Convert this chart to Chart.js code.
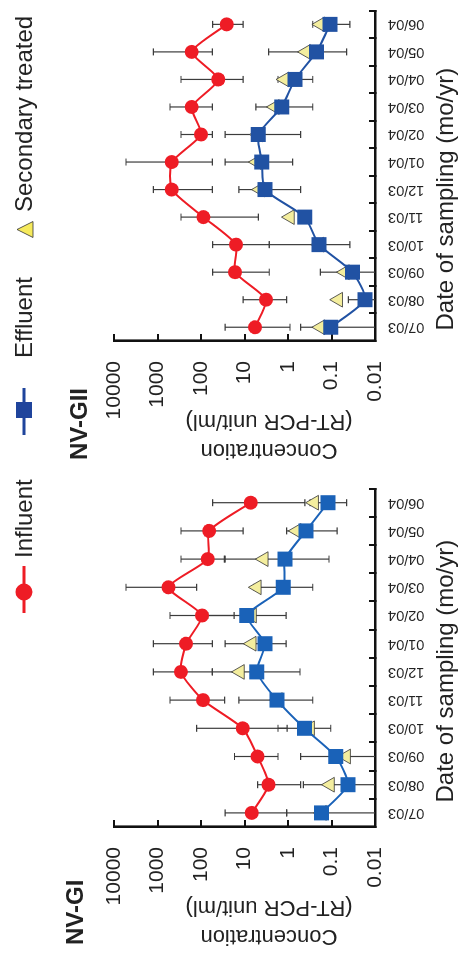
<!DOCTYPE html>
<html>
<head>
<meta charset="utf-8">
<script src="https://cdn.jsdelivr.net/npm/chart.js@4.4.1/dist/chart.umd.min.js"></script>
<style>
  html, body { margin: 0; padding: 0; background: #fff; overflow: hidden; }
  body { width: 462px; height: 958px; position: relative; }
  /* the figure is laid out landscape, then turned a quarter left */
  #fig { position: absolute; left: 0; top: 0; width: 958px; height: 462px;
         transform-origin: 0 0; transform: translate(0, 958px) rotate(-90deg);
         font-family: "Liberation Sans", Arial, sans-serif; color: #222; }
  #fig canvas { position: absolute; top: 0; }
  #c1 { left: 0; }
  #c2 { left: 486px; }
  .lab { position: absolute; line-height: 30px; white-space: nowrap; }
  .panel { font-weight: bold; font-size: 24px; }
  .leg { font-size: 24px; top: 9px; height: 30px; }
  .leg svg { position: absolute; left: 0; top: 0; }
  .leg span { position: absolute; top: 0; }
</style>
</head>
<body>
<div id="fig">
  <canvas id="c1" width="480" height="462"></canvas>
  <canvas id="c2" width="472" height="462"></canvas>

  <div class="lab panel" style="left:13px; top:60px">NV-GI</div>
  <div class="lab panel" style="left:498px; top:64px">NV-GII</div>

  <div class="lab leg" style="left:345px">
    <svg width="47" height="30"><line x1="0" y1="15" x2="47" y2="15" stroke="#ee1c25" stroke-width="3"/><circle cx="21" cy="15" r="8.5" fill="#ee1c25"/></svg>
    <span style="left:55px">Influent</span>
  </div>
  <div class="lab leg" style="left:523px">
    <svg width="47" height="30"><line x1="0" y1="15" x2="47" y2="15" stroke="#1f449c" stroke-width="3"/><rect x="17" y="7" width="16" height="16" fill="#1f449c"/></svg>
    <span style="left:77px">Effluent</span>
  </div>
  <div class="lab leg" style="left:720px">
    <svg width="17" height="30"><polygon points="8.5,8 16.5,24 0.5,24" fill="#f6ea5c" stroke="#333" stroke-width="0.8"/></svg>
    <span style="left:26px">Secondary treated</span>
  </div>
</div>

<script>
const dates = ['07/03', '08/03', '09/03', '10/03', '11/03', '12/03',
               '01/04', '02/04', '03/04', '04/04', '05/04', '06/04'];
const valueTicks = [0.01, 0.1, 1, 10, 100, 1000, 10000];
const valueTickLabels = ['0.01', '0.1', '1', '10', '100', '1000', '10000'];

// NV-GI
const giInfluent     = [6.8, 2.8, 5.0, 11, 90, 290, 220, 95, 560, 70, 65, 7.2];
const giInfluentHigh = [28, 5.0, 17, 126, 516, 1250, 1250, 516, 5300, 288, 288, 54];
const giInfluentLow  = [1.07, 0.51, 1.7, 1.05, 28.5, 55, 55, 17.4, 126, 29, 10.7, 0.41];
const giEffluent     = [0.17, 0.042, 0.08, 0.42, 1.8, 5.2, 3.4, 8.9, 1.28, 1.17, 0.385, 0.12];
const giEffluentHigh = [1.07, 0.445, 0.51, 1.7, 13.4, 55, 28, 70, 6.05, 28, 1.07, 0.31];
const giEffluentLow  = [0.005, 0.005, 0.005, 0.104, 0.27, 0.53, 1.1, 1.1, 0.27, 0.114, 0.074, 0.045];
const giSecondary    = [0.165, 0.108, 0.046, 0.31, 1.7, 12.7, 6.8, 6.7, 5.2, 3.6, 0.63, 0.25];

// NV-GII
const giiInfluent     = [5.7, 3.2, 16.5, 15.7, 88, 470, 470, 100, 164, 40, 164, 25.6];
const giiInfluentHigh = [28, 10.7, 54, 54, 288, 1250, 5300, 288, 516, 288, 1250, 54];
const giiInfluentLow  = [0.9, 1.07, 2.7, 2.7, 4.8, 55, 55, 55, 55, 10.7, 55, 10.7];
const giiEffluent     = [0.104, 0.017, 0.033, 0.194, 0.41, 3.4, 4.0, 4.8, 1.4, 0.69, 0.22, 0.108];
const giiEffluentHigh = [0.51, 0.041, 0.18, 2.7, null, 13.4, 28, 28, 5.5, 1.7, 2.8, 0.27];
const giiEffluentLow  = [0.005, 0.005, 0.005, 0.038, null, 0.51, 0.78, 0.51, 0.27, 0.27, 0.045, 0.038];
const giiSecondary    = [0.18, 0.07, 0.049, 0.19, 0.9, 4.4, 5.2, 4.9, 2.0, 1.2, 0.385, 0.18];

const NB = '\u00A0';

Chart.defaults.font.family = '"Liberation Sans", Arial, sans-serif';
Chart.defaults.color = '#222';

// whiskers, drawn under the markers and cut at the plot frame
const errorBars = {
  id: 'errorBars',
  beforeDatasetsDraw(chart) {
    const { ctx, chartArea: a, scales: { x, y } } = chart;
    ctx.save();
    ctx.beginPath();
    ctx.rect(a.left, a.top, a.right - a.left, a.bottom - a.top);
    ctx.clip();
    ctx.strokeStyle = '#3c3c3c';
    ctx.lineWidth = 1.2;
    chart.data.datasets.forEach((ds) => {
      if (!ds.errHigh) return;
      ds.data.forEach((v, i) => {
        const hi = ds.errHigh[i];
        const lo = ds.errLow[i];
        if (hi == null || lo == null) return;
        const px = x.getPixelForValue(i);
        const top = y.getPixelForValue(hi);
        const bot = y.getPixelForValue(lo);
        ctx.beginPath();
        ctx.moveTo(px, top); ctx.lineTo(px, bot);
        ctx.moveTo(px - 3.5, top); ctx.lineTo(px + 3.5, top);
        ctx.moveTo(px - 3.5, bot); ctx.lineTo(px + 3.5, bot);
        ctx.stroke();
      });
    });
    ctx.restore();
  },
};

function makePanel(canvasId, p) {
  return new Chart(document.getElementById(canvasId), {
    type: 'line',
    data: {
      labels: dates,
      datasets: [
        {
          label: 'Influent',
          data: p.influent, errHigh: p.influentHigh, errLow: p.influentLow,
          borderColor: '#ee1c25', backgroundColor: '#ee1c25', borderWidth: 2,
          pointRadius: 7, pointBorderWidth: 0, tension: 0.2,
        },
        {
          label: 'Effluent',
          data: p.effluent, errHigh: p.effluentHigh, errLow: p.effluentLow,
          borderColor: p.blue, backgroundColor: p.blue, borderWidth: 2,
          pointStyle: 'rect', pointRadius: 10.6, pointBorderWidth: 0, tension: 0.2,
        },
        {
          label: 'Secondary treated',
          data: p.secondary, showLine: false,
          pointStyle: 'triangle', pointRadius: 8.5,
          backgroundColor: '#f4ee9e', borderColor: '#333', pointBorderWidth: 0.8,
        },
      ],
    },
    options: {
      responsive: false,
      animation: false,
      events: [],
      layout: { padding: { left: 0, right: p.padRight, top: 114, bottom: 0 } },
      plugins: { legend: { display: false }, tooltip: { enabled: false } },
      scales: {
        x: {
          type: 'category',
          offset: true,
          afterFit: (s) => { s.height = 87; s.paddingLeft = 0; s.paddingRight = 0; },
          ticks: { minRotation: 90, maxRotation: 90, autoSkip: false, font: { size: 14.5 }, color: '#222', padding: 19 },
          grid: { offset: true, drawOnChartArea: false, tickLength: -6, lineWidth: 2, color: '#111' },
          border: { color: '#111', width: 2.6 },
          title: {
            display: true,
            text: 'Date of sampling (mo/yr)' + NB.repeat(p.xShift),
            font: { size: 24 }, color: '#222',
            padding: { top: 0, bottom: 1 },
          },
        },
        y: {
          type: 'logarithmic',
          min: 0.01,
          max: 10000,
          afterBuildTicks: (s) => { s.ticks = valueTicks.map((v) => ({ value: v })); },
          afterFit: (s) => { s.width = 131; },
          ticks: { callback: (v, i) => valueTickLabels[i], font: { size: 21 }, color: '#222', padding: 27 },
          grid: { drawOnChartArea: false, tickLength: -7, lineWidth: 2, color: '#111' },
          border: { color: '#111', width: 2.6 },
          title: {
            display: true,
            text: ['Concentration' + NB.repeat(8), '(RT-PCR unit/ml)' + NB.repeat(8)],
            font: { size: 22, lineHeight: 1.3 }, color: '#222',
            padding: { top: 8, bottom: 0 },
          },
        },
      },
    },
    plugins: [errorBars],
  });
}

makePanel('c1', {
  influent: giInfluent, influentHigh: giInfluentHigh, influentLow: giInfluentLow,
  effluent: giEffluent, effluentHigh: giEffluentHigh, effluentLow: giEffluentLow,
  secondary: giSecondary, blue: '#1a62b8', padRight: 7, xShift: 4,
});

makePanel('c2', {
  influent: giiInfluent, influentHigh: giiInfluentHigh, influentLow: giiInfluentLow,
  effluent: giiEffluent, effluentHigh: giiEffluentHigh, effluentLow: giiEffluentLow,
  secondary: giiSecondary, blue: '#2152a3', padRight: 2, xShift: 7,
});
</script>
</body>
</html>
